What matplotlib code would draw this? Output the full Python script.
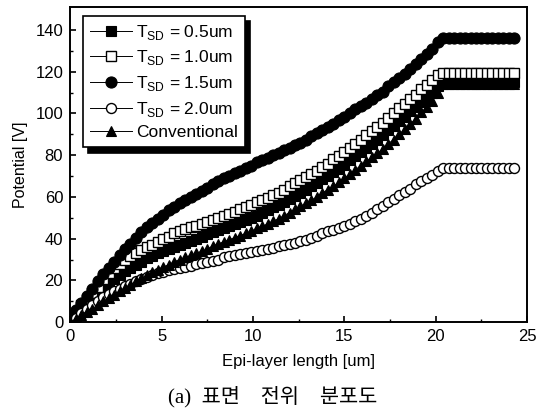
import numpy as np
import matplotlib
matplotlib.use("Agg")
import matplotlib.pyplot as plt

plt.rcParams['font.family'] = ['Liberation Sans', 'DejaVu Sans']
plt.rcParams['mathtext.fontset'] = 'custom'
plt.rcParams['mathtext.rm'] = 'Liberation Sans'

# epi-layer positions [um]
x = [0.0, 0.3, 0.6, 0.9, 1.2, 1.5, 1.8, 2.1, 2.4, 2.7, 3.0, 3.3, 3.6, 3.9,
     4.2, 4.5, 4.8, 5.1, 5.4, 5.7, 6.0, 6.3, 6.6, 6.9, 7.2, 7.5, 7.8, 8.1,
     8.4, 8.7, 9.0, 9.3, 9.6, 9.9, 10.2, 10.5, 10.8, 11.1, 11.4, 11.7, 12.0,
     12.3, 12.6, 12.9, 13.2, 13.5, 13.8, 14.1, 14.4, 14.7, 15.0, 15.3, 15.6,
     15.9, 16.2, 16.5, 16.8, 17.1, 17.4, 17.7, 18.0, 18.3, 18.6, 18.9, 19.2,
     19.5, 19.8, 20.1, 20.4, 20.7, 21.0, 21.3, 21.6, 21.9, 22.2, 22.5, 22.8,
     23.1, 23.4, 23.7, 24.0, 24.3]

# potential [V]
tsd_05 = [0.5, 3, 5.5, 8, 11, 13.5, 16.5, 18.5, 20.5, 22.5, 24.5, 26, 27.5, 29,
          30.5, 31.5, 33, 34, 35, 36, 37, 38, 39, 40, 41, 42, 43, 44,
          45, 46, 47, 48, 49, 50, 51, 52.5, 53.5, 55, 56, 57.5, 59,
          60.5, 62, 63.5, 65, 66.5, 68.5, 70, 72, 73.5, 75.5, 77.5, 79.5,
          81.5, 83.5, 85.5, 87.5, 89.5, 92, 94, 96.5, 98.5, 101, 103, 105.5,
          107.5, 110, 113, 115, 115, 115, 115, 115, 115, 115, 115, 115,
          115, 115, 115, 115, 115]
tsd_10 = [1, 4.5, 8, 11, 14, 17, 20.5, 23.5, 26, 28, 30, 31.5, 33, 34.5,
          36, 37, 38.5, 40, 41, 42.5, 43.5, 44.5, 45.5, 46, 47, 48, 49, 50,
          51, 52, 53, 54, 55, 56, 57.5, 58.5, 59.5, 61, 62, 63.5, 65,
          66.5, 68, 69.5, 71, 72.5, 74.5, 76, 78, 79.5, 81.5, 83.5, 85.5,
          87.5, 89.5, 91.5, 93.5, 95.5, 98, 100, 102.5, 104.5, 107, 109, 111.5,
          113.5, 116, 118.5, 119.5, 119.5, 119.5, 119.5, 119.5, 119.5, 119.5,
          119.5, 119.5, 119.5, 119.5, 119.5, 119.5, 119.5]
tsd_15 = [3, 6, 9, 12.5, 16, 19.5, 23, 26, 29, 32, 35, 37.5, 40.5, 43,
          45.5, 47.5, 49.5, 51.5, 53.5, 55, 57, 58.5, 60, 61.5, 63, 64.5, 66, 67.5,
          69, 70, 71.5, 72.5, 74, 75, 76.5, 77.5, 78.5, 80, 81, 82.5, 83.5,
          85, 86, 87.5, 89, 90.5, 92, 93.5, 95, 97, 98.5, 100, 102,
          103.5, 105, 107, 109, 110.5, 113, 115, 117, 119, 121.5, 123.5, 126,
          128.5, 131, 134, 136, 136, 136, 136, 136, 136, 136, 136, 136,
          136, 136, 136, 136, 136]
tsd_20 = [0, 2, 4.5, 6.5, 8, 10, 12, 13.5, 15, 16, 17.5, 18.5, 19.5, 20.5,
          21.5, 22.5, 23.5, 24, 25, 25.5, 26, 26.5, 27, 28, 28.5, 29, 29.5, 30,
          31, 31.5, 32, 32.5, 33, 33.5, 34, 34.5, 35, 35.5, 36.5, 37, 37.5,
          38, 39, 39.5, 40.5, 41.5, 42.5, 43.5, 44, 45, 46, 47, 48.5,
          49.5, 51, 52.5, 54, 55.5, 57.5, 59, 61, 62.5, 64, 66, 67.5,
          69, 70.5, 72.5, 74, 74, 74, 74, 74, 74, 74, 74, 74,
          74, 74, 74, 74, 74]
conventional = [0, 1.5, 3.5, 5, 6.5, 8, 10, 11.5, 13, 15, 16.5, 18, 19.5, 21,
                22.5, 24, 25, 26.5, 27.5, 29, 30, 31, 32, 33, 34, 35, 36.5, 37.5,
                38.5, 39.5, 40.5, 41.5, 42.5, 43.5, 45, 46, 47, 48.5, 49.5, 51, 52.5,
                54, 55.5, 57, 58.5, 60, 62, 63.5, 65, 67, 69, 71, 73,
                75, 77, 79, 81, 83, 85.5, 87.5, 90, 92.5, 95, 97.5, 100.5,
                103, 106, 110, 114, 114, 114, 114, 114, 114, 114, 114, 114,
                114, 114, 114, 114, 114]

labels = [r'T$_{\rm SD}$ = 0.5um', r'T$_{\rm SD}$ = 1.0um', r'T$_{\rm SD}$ = 1.5um',
          r'T$_{\rm SD}$ = 2.0um', 'Conventional']

fig = plt.figure(figsize=(5.48, 4.13), dpi=100)
ax = fig.add_axes([0.128, 0.220, 0.834, 0.763])

ax.plot(x, tsd_05, '-s', color='k', lw=0.7, ms=6.5, mfc='k', mew=0.8, label=labels[0])
ax.plot(x, tsd_10, '-s', color='k', lw=0.7, ms=6.5, mfc='white', mew=1.0, label=labels[1])
ax.plot(x, tsd_15, '-o', color='k', lw=0.7, ms=8, mfc='k', mew=0.8, label=labels[2])
ax.plot(x, tsd_20, '-o', color='k', lw=0.7, ms=7.2, mfc='white', mew=1.0, label=labels[3])
ax.plot(x, conventional, '-^', color='k', lw=0.7, ms=7.5, mfc='k', mew=0.8, label=labels[4])

ax.set_xlim(0, 25)
ax.set_ylim(0, 151)
ax.set_xticks([0, 5, 10, 15, 20, 25])
ax.set_xticks([2.5, 7.5, 12.5, 17.5, 22.5], minor=True)
ax.set_yticks([0, 20, 40, 60, 80, 100, 120, 140])
ax.set_yticks([10, 30, 50, 70, 90, 110, 130], minor=True)
ax.tick_params(which='major', direction='in', length=4.5, width=1.2, labelsize=12,
               top=False, right=False, pad=5)
ax.tick_params(which='minor', direction='in', length=2.5, width=1.0, top=False, right=False)
for s in ax.spines.values():
    s.set_linewidth(1.4)

ax.set_xlabel('Epi-layer length [um]', fontsize=12, labelpad=7)
ax.set_ylabel('Potential [V]', fontsize=11.5, labelpad=5)

leg = ax.legend(loc='upper left', bbox_to_anchor=(0.028, 0.972), borderaxespad=0,
                fancybox=False, framealpha=1, edgecolor='k', fontsize=12.5,
                handlelength=2.4, handletextpad=0.25, labelspacing=0.38,
                borderpad=0.4,
                shadow={'ox': 4, 'oy': -4, 'color': 'k', 'alpha': 1})
leg.get_frame().set_linewidth(1.2)

fig.text(0.497, 0.039, '(a)  표면\u3000전위\u3000분포도', ha='center', va='center',
         fontsize=15, family=['Liberation Serif', 'Noto Sans CJK KR'])

fig.savefig('out.png', dpi=100)
